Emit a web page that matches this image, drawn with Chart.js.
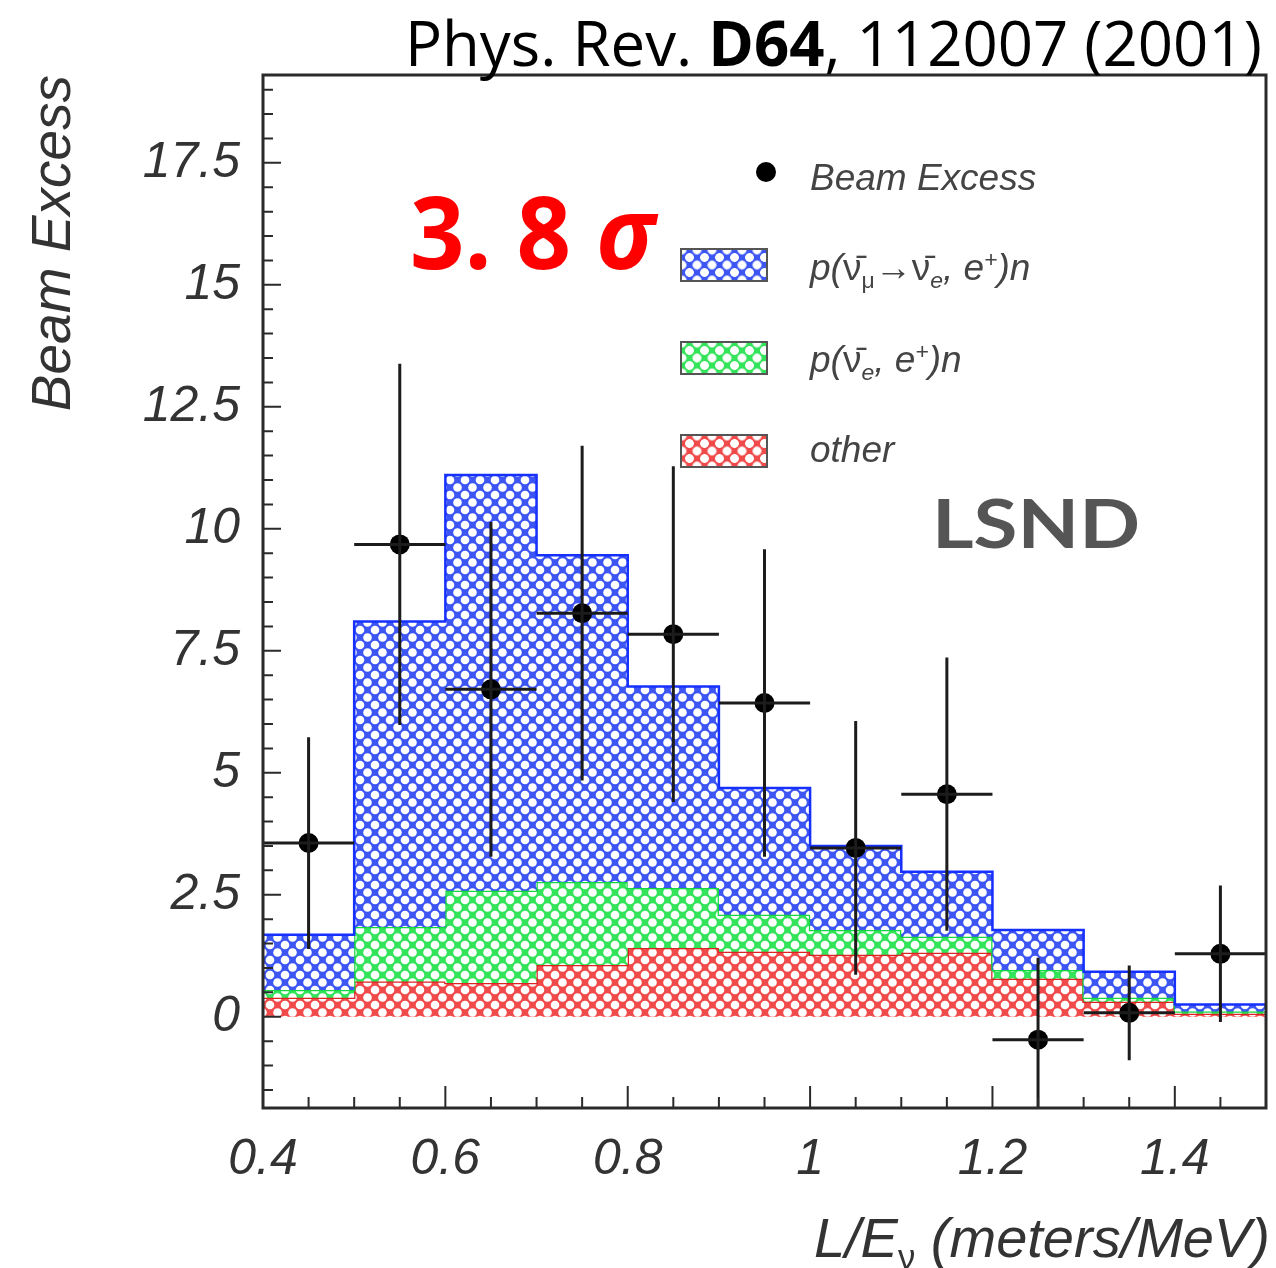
<!DOCTYPE html>
<html>
<head>
<meta charset="utf-8">
<script src="https://cdn.jsdelivr.net/npm/chart.js@4.4.1/dist/chart.umd.min.js"></script>
<style>
html,body{margin:0;padding:0;background:#fff;}
#wrap{position:relative;width:1276px;height:1268px;overflow:hidden;}
#c{position:absolute;left:0;top:0;}
.t{position:absolute;white-space:nowrap;line-height:1;}
#ref{right:14px;top:0px;font:400 62px "Open Sans";color:#000;transform-origin:right top;}
#sig{left:410px;top:162px;font:700 100px "Open Sans";color:#ff0000;transform-origin:left top;}
#lsnd{left:932px;top:483px;font:700 66px Lato;color:#555;transform-origin:left top;}
.leg{font:italic 37px "Liberation Sans";color:#444;left:810px;}
.leg sub,.leg sup,#xt sub{font-size:62%;line-height:0;}
.nu{font-style:normal;}
.dot{position:absolute;left:756px;top:162px;width:20px;height:20px;border-radius:50%;background:#000;}
.sw{position:absolute;left:680px;width:84px;height:30px;border:2px solid #555;}
#xt{right:6px;top:1205px;font:italic 56px "Liberation Sans";color:#333;}
</style>
</head>
<body>
<div id="wrap">
<canvas id="c" width="1276" height="1268"></canvas>
<div class="t" id="ref">Phys. Rev. <b>D64</b>, 112007 (2001)</div>
<div class="t" id="sig">3. 8 <i>σ</i></div>
<div class="t" id="lsnd">LSND</div>
<div class="dot"></div>
<div class="t leg" style="top:157px">Beam Excess</div>
<div class="sw" id="swOsc" style="top:248px"></div>
<div class="t leg" style="top:247px">p(<span class="nu">ν̄</span><sub class="nu">μ</sub>→<span class="nu">ν̄</span><sub>e</sub>, e<sup>+</sup>)n</div>
<div class="sw" id="swNue" style="top:341px"></div>
<div class="t leg" style="top:339px">p(<span class="nu">ν̄</span><sub>e</sub>, e<sup>+</sup>)n</div>
<div class="sw" id="swOther" style="top:434px"></div>
<div class="t leg" style="top:429px">other</div>
<div class="t" id="xt">L/E<sub class="nu">ν</sub> (meters/MeV)</div>
</div>
<script>
// bin edges of the L/E histogram (meters/MeV)
const binEdges = [0.4,0.5,0.6,0.7,0.8,0.9,1.0,1.1,1.2,1.3,1.4,1.5];
// stacked components per bin
const otherBkg  = [0.39,0.72,0.69,1.06,1.41,1.33,1.27,1.31,0.78,0.31,0.06];
const nueBkg    = [0.16,1.12,1.89,1.70,1.23,0.76,0.51,0.33,0.18,0.08,0.05];
const oscSignal = [1.13,6.26,8.52,6.70,4.13,2.60,1.72,1.33,0.82,0.53,0.14];
// beam excess data points
const dataX      = [0.45,0.55,0.65,0.75,0.85,0.95,1.05,1.15,1.25,1.35,1.45];
const beamExcess = [3.56,9.68,6.71,8.27,7.84,6.43,3.46,4.56,-0.47,0.08,1.29];
const beamErr    = [2.17,3.70,3.43,3.43,3.44,3.15,2.60,2.80,1.68,0.97,1.40];
const xHalfBin = 0.05;
// axis ticks
const xTicks = [0.4,0.6,0.8,1,1.2,1.4];
const yTicks = [0,2.5,5,7.5,10,12.5,15,17.5];

const COL = {osc:'#3d55f2', nue:'#33e35a', other:'#f04a4a'};
const EDGE = {osc:'#1530ff', nue:'#14d640', other:'#dd2222'};

const canvas = document.getElementById('c');
const ctx = canvas.getContext('2d');

function hatch(color){
  const s = 15, c = document.createElement('canvas');
  c.width = c.height = s;
  const g = c.getContext('2d');
  g.fillStyle = color; g.fillRect(0,0,s,s);
  g.fillStyle = '#fff';
  [[0,0],[s,0],[0,s],[s,s],[s/2,s/2]].forEach(([x,y])=>{g.beginPath();g.arc(x,y,4.3,0,Math.PI*2);g.fill();});
  return ctx.createPattern(c,'repeat');
}
function swatch(id,color){
  const el = document.getElementById(id);
  const dots = 'radial-gradient(circle, #fff 4px, transparent 4.7px)';
  el.style.background = `${dots} 0 0/15px 15px, ${dots} 7.5px 7.5px/15px 15px, ${color}`;
}
swatch('swOsc',COL.osc); swatch('swNue',COL.nue); swatch('swOther',COL.other);

const cum = (...arrs)=>arrs[0].map((_,i)=>arrs.reduce((s,a)=>s+a[i],0));
const otherTop = otherBkg;
const nueTop = cum(otherBkg,nueBkg);
const oscTop = cum(otherBkg,nueBkg,oscSignal);
const steps = tops => binEdges.map((x,i)=>({x, y: tops[Math.min(i,tops.length-1)]}));

function histo(label,tops,key,fill){
  return {label, data:steps(tops), stepped:'before', fill, backgroundColor:hatch(COL[key]),
    borderColor:EDGE[key], borderWidth:2.5, pointRadius:0, tension:0};
}

const errorBars = {
  id:'errorBars',
  afterDatasetsDraw(chart){
    const {ctx:c, chartArea:a, scales:{x,y}} = chart;
    c.save();
    c.beginPath(); c.rect(a.left,a.top,a.right-a.left,a.bottom-a.top); c.clip();
    c.strokeStyle = '#1c1c1c'; c.lineWidth = 3;
    dataX.forEach((xv,i)=>{
      const px = x.getPixelForValue(xv), py = y.getPixelForValue(beamExcess[i]);
      c.beginPath();
      c.moveTo(px, y.getPixelForValue(beamExcess[i]-beamErr[i]));
      c.lineTo(px, y.getPixelForValue(beamExcess[i]+beamErr[i]));
      c.moveTo(x.getPixelForValue(xv-xHalfBin), py);
      c.lineTo(x.getPixelForValue(xv+xHalfBin), py);
      c.stroke();
    });
    c.restore();
  }
};

const frame = {
  id:'frame',
  afterDatasetsDraw(chart){
    const {ctx:c, chartArea:a, scales:{x,y}} = chart;
    c.save();
    c.strokeStyle = '#2a2a2a';
    c.lineWidth = 2;
    c.beginPath();
    for(let k=-3;k<=38;k++){
      const v = k*0.5, p = y.getPixelForValue(v);
      if(p < a.top || p > a.bottom) continue;
      const len = k%5===0 ? 18 : 10;
      c.moveTo(a.left,p); c.lineTo(a.left+len,p);
    }
    for(let k=0;k<=22;k++){
      const v = 0.4 + k*0.05, p = x.getPixelForValue(v);
      const len = k%4===0 ? 22 : 11;
      c.moveTo(p,a.bottom); c.lineTo(p,a.bottom-len);
    }
    c.stroke();
    c.lineWidth = 3;
    c.strokeRect(a.left,a.top,a.right-a.left,a.bottom-a.top);
    c.restore();
  }
};

const tickFont = {family:'"Liberation Sans"', size:50, style:'italic'};

new Chart(ctx,{
  type:'line',
  data:{datasets:[
    {label:'Beam Excess', data:dataX.map((x,i)=>({x,y:beamExcess[i]})), showLine:false,
      pointRadius:10, pointBackgroundColor:'#000', pointBorderColor:'#000', pointBorderWidth:0},
    histo('osc',oscTop,'osc','+1'),
    histo('nue',nueTop,'nue','+1'),
    histo('other',otherTop,'other','origin')
  ]},
  options:{
    responsive:false, animation:false, devicePixelRatio:1,
    layout:{padding:{top:75,right:6,left:0,bottom:0}},
    plugins:{legend:{display:false}, tooltip:{enabled:false}},
    scales:{
      x:{type:'linear', min:0.4, max:1.5,
        afterBuildTicks:s=>{s.ticks = xTicks.map(v=>({value:v}));},
        afterFit:s=>{s.height = 160;},
        grid:{display:false, drawTicks:false}, border:{display:false},
        ticks:{font:tickFont, color:'#333', padding:22, autoSkip:false, maxRotation:0,
          callback:v=>String(+v.toFixed(2))}},
      y:{type:'linear', min:-1.87, max:19.3,
        afterBuildTicks:s=>{s.ticks = yTicks.map(v=>({value:v}));},
        afterFit:s=>{s.width = 263;},
        grid:{display:false, drawTicks:false}, border:{display:false},
        ticks:{font:tickFont, color:'#333', padding:23, autoSkip:false,
          callback:v=>String(v)},
        title:{display:true, text:'Beam Excess', align:'end', color:'#333',
          font:{family:'"Liberation Sans"', size:55, style:'italic'}, padding:{top:22,bottom:0}}}
    }
  },
  plugins:[errorBars, frame]
});

// squeeze the annotation texts to the widths they have in the figure
function fitWidth(id,w){
  const el = document.getElementById(id);
  el.style.transform = `scaleX(${w/el.getBoundingClientRect().width})`;
}
fitWidth('ref',857); fitWidth('sig',245); fitWidth('lsnd',208);
</script>
</body>
</html>
